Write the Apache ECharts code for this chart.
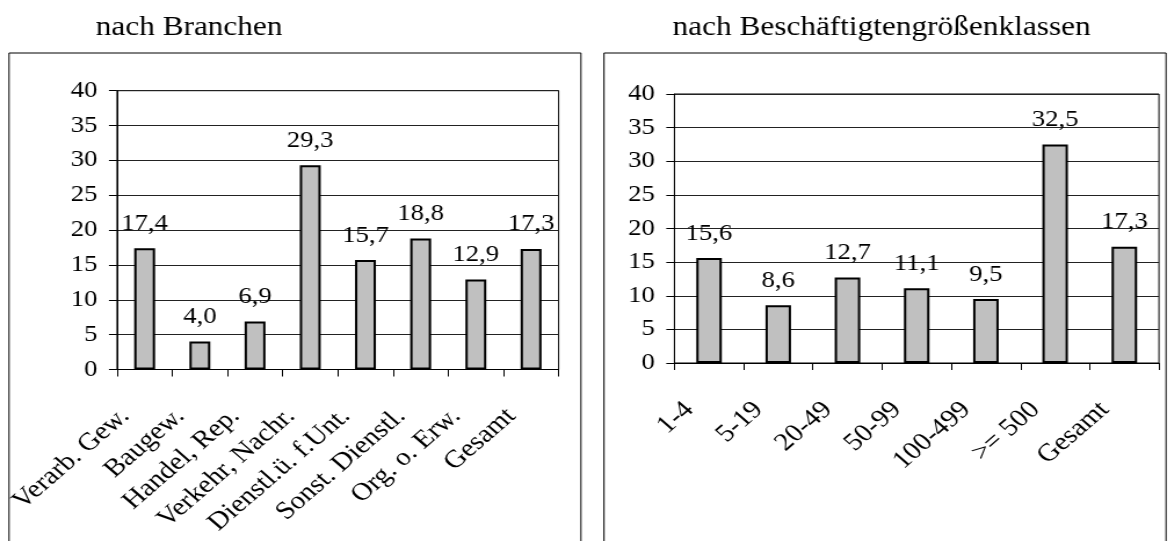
<!DOCTYPE html>
<html>
<head>
<meta charset="utf-8">
<script src="https://cdn.jsdelivr.net/npm/echarts@6/dist/echarts.min.js"></script>
<style>
html,body{margin:0;padding:0;background:#fff;overflow:hidden;}
#c{width:1011px;height:541px;transform:scaleX(1.16);transform-origin:0 0;}
</style>
</head>
<body>
<div id="c"></div>
<script>
var titleLeft = 'nach Branchen';
var titleRight = 'nach Beschäftigtengrößenklassen';
var catsLeft = ['Verarb. Gew.', 'Baugew.', 'Handel, Rep.', 'Verkehr, Nachr.', 'Dienstl.ü. f.Unt.', 'Sonst. Dienstl.', 'Org. o. Erw.', 'Gesamt'];
var valsLeft = [17.4, 4.0, 6.9, 29.3, 15.7, 18.8, 12.9, 17.3];
var catsRight = ['1-4', '5-19', '20-49', '50-99', '100-499', '>= 500', 'Gesamt'];
var valsRight = [15.6, 8.6, 12.7, 11.1, 9.5, 32.5, 17.3];
var yMin = 0, yMax = 40, yStep = 5;

var FONT = 'Liberation Serif, Times New Roman, serif';
var chart = echarts.init(document.getElementById('c'));

function fmt(p){ return p.value.toFixed(1).replace('.', ','); }

function xAxis(idx, cats){
  return {
    type: 'category', gridIndex: idx, data: cats, boundaryGap: true,
    axisLine: {lineStyle: {color: '#000', width: 1}},
    axisTick: {show: true, length: 7, lineStyle: {color: '#000', width: 1}},
    axisLabel: {interval: 0, rotate: 45, fontSize: 25, fontFamily: FONT, color: '#000', margin: 26, padding: [0, 24, 0, 0]}
  };
}
function yAxis(idx){
  return {
    type: 'value', gridIndex: idx, min: yMin, max: yMax, interval: yStep,
    axisLine: {show: true, lineStyle: {color: '#000', width: 1}},
    axisTick: {show: true, length: 7, lineStyle: {color: '#000', width: 1}},
    splitLine: {show: true, lineStyle: {color: '#222', width: 1}},
    axisLabel: {fontSize: 23, fontFamily: FONT, color: '#000', margin: 17}
  };
}
function series(idx, vals, bw){
  return {
    type: 'bar', xAxisIndex: idx, yAxisIndex: idx, data: vals, barWidth: bw,
    itemStyle: {color: '#c0c0c0', borderColor: '#000', borderWidth: 2},
    label: {show: true, position: 'top', distance: 13, fontSize: 23, fontFamily: FONT, color: '#000', formatter: fmt},
    silent: true
  };
}

chart.setOption({
  animation: false,
  backgroundColor: '#fff',
  grid: [
    {left: 100.9, top: 90.7, width: 380.7, height: 278.8, show: true, borderColor: '#000', borderWidth: 1, backgroundColor: 'transparent'},
    {left: 581.4, top: 94, width: 417.7, height: 269, show: true, borderColor: '#000', borderWidth: 1, backgroundColor: 'transparent'}
  ],
  xAxis: [xAxis(0, catsLeft), xAxis(1, catsRight)],
  yAxis: [yAxis(0), yAxis(1)],
  series: [series(0, valsLeft, 18), series(1, valsRight, 22)],
  graphic: [
    {type: 'rect', shape: {x: 7.8, y: 53, width: 493, height: 520}, style: {fill: 'none', stroke: '#000', lineWidth: 1}, z: -1},
    {type: 'rect', shape: {x: 520.7, y: 53, width: 484.5, height: 520}, style: {fill: 'none', stroke: '#000', lineWidth: 1}, z: -1},
    {type: 'text', x: 163, y: 28, style: {text: titleLeft, textAlign: 'center', textVerticalAlign: 'middle', fontSize: 27, fontFamily: FONT, fill: '#000'}},
    {type: 'text', x: 760, y: 28, style: {text: titleRight, textAlign: 'center', textVerticalAlign: 'middle', fontSize: 27, fontFamily: FONT, fill: '#000'}}
  ]
});
</script>
</body>
</html>
